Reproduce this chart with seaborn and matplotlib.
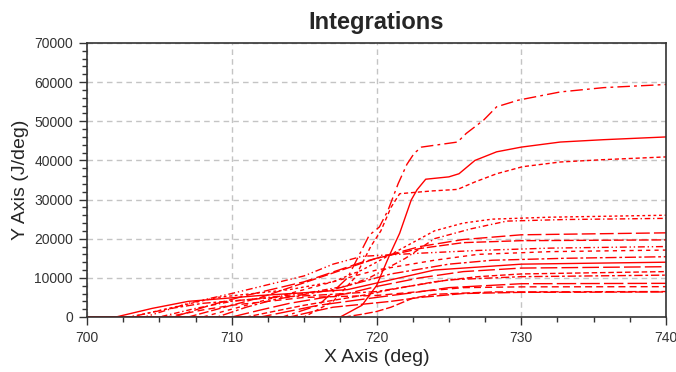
import pandas as pd
import matplotlib
matplotlib.use('Agg')
import matplotlib.pyplot as plt
import seaborn as sns
from matplotlib.ticker import MultipleLocator

# Integrated curves (x in deg, y in J/deg)
c01_x = [700, 713.5, 716, 718, 719.5, 720.2, 720.8, 721.5, 722.1, 722.6, 723.1, 725.6, 726.2, 727.4, 728.3, 729.8, 732.7, 735.7, 740]
c01_y = [0, 0, 3000, 10000, 20900, 23000, 27300, 34100, 39000, 41800, 43400, 44700, 46900, 50300, 53700, 55400, 57500, 58600, 59400]
c02_x = [700, 717.5, 719, 720, 720.9, 721.6, 722.4, 722.8, 723.4, 725, 725.7, 726.8, 728.3, 730, 732.7, 735.7, 740]
c02_y = [0, 0, 3000, 8000, 15800, 21400, 29900, 32500, 35200, 35800, 36600, 40000, 42200, 43400, 44700, 45300, 46000]
c03_x = [700, 715, 717, 718.5, 719.6, 720.3, 721.0, 721.6, 723.8, 725.6, 726.8, 728.3, 730.1, 732.7, 735.7, 740]
c03_y = [0, 0, 4000, 10000, 18000, 22000, 28000, 31500, 32200, 32600, 34500, 36600, 38400, 39600, 40200, 40900]
c04_x = [700, 703, 706, 709, 714, 717, 719, 721, 724, 726, 728, 732, 740]
c04_y = [0, 0, 2500, 5000, 7000, 9000, 12000, 16000, 22000, 24000, 25000, 25500, 26000]
c05_x = [700, 705, 707.5, 710, 715, 718, 719.5, 722, 724, 726.5, 729, 733, 740]
c05_y = [0, 0, 2200, 4000, 6000, 8000, 10000, 15000, 20000, 22500, 24500, 24900, 25200]
c06_x = [700, 706, 708.5, 711, 715, 717, 719, 721, 723, 726, 730, 740]
c06_y = [0, 0, 3000, 5500, 9000, 11500, 14000, 16000, 18000, 19800, 21000, 21500]
c07_x = [700, 707, 709.5, 712, 716, 718, 720, 723, 726, 730, 740]
c07_y = [0, 0, 2500, 5000, 10000, 12500, 15000, 17500, 19000, 19500, 19700]
c08_x = [700, 704, 707, 710, 715, 717, 719, 723, 727, 732, 740]
c08_y = [0, 0, 3500, 6000, 10500, 13500, 15500, 16300, 17000, 17600, 18000]
c09_x = [700, 708, 710, 712, 716, 718, 720, 724, 727, 732, 740]
c09_y = [0, 0, 2000, 4000, 8000, 10000, 12000, 14500, 16000, 16700, 17100]
c10_x = [700, 709, 711, 713, 717, 719, 721, 725, 728, 733, 740]
c10_y = [0, 0, 2500, 4500, 7000, 9000, 11000, 13500, 14500, 15000, 15400]
c11_x = [700, 702, 704.5, 707, 712, 715, 718, 721, 724, 730, 740]
c11_y = [0, 0, 2200, 4000, 5500, 6200, 7000, 9500, 12000, 13500, 14000]
c12_x = [700, 710, 712, 714, 718, 720, 723, 726, 730, 740]
c12_y = [0, 0, 1800, 3500, 6000, 7800, 10000, 11600, 12500, 12850]
c13_x = [700, 711, 713, 715, 719, 721, 724, 727, 730, 740]
c13_y = [0, 0, 1500, 3000, 5500, 7000, 9000, 10300, 11000, 11600]
c14_x = [700, 703, 705.5, 708, 713, 717, 720, 722.5, 725, 730, 740]
c14_y = [0, 0, 2000, 3500, 5000, 5800, 6500, 8000, 9500, 10300, 10700]
c15_x = [700, 712, 714, 716, 720, 722.5, 725, 730, 740]
c15_y = [0, 0, 1500, 3000, 5000, 6200, 7500, 8500, 8600]
c16_x = [700, 705.5, 708, 710, 715, 720, 723, 726, 730, 740]
c16_y = [0, 0, 1800, 3000, 5000, 5500, 6500, 7500, 7700, 7750]
c17_x = [700, 714, 715.5, 717, 721, 723, 726, 730, 740]
c17_y = [0, 0, 1300, 2500, 4000, 5000, 6000, 6300, 6400]
c18_x = [700, 717.8, 719, 720, 721, 722.5, 724, 728, 740]
c18_y = [0, 0, 700, 1400, 2500, 4800, 5800, 6400, 6500]

curves = {
    'c01': (c01_x, c01_y), 'c02': (c02_x, c02_y), 'c03': (c03_x, c03_y),
    'c04': (c04_x, c04_y), 'c05': (c05_x, c05_y), 'c06': (c06_x, c06_y),
    'c07': (c07_x, c07_y), 'c08': (c08_x, c08_y), 'c09': (c09_x, c09_y),
    'c10': (c10_x, c10_y), 'c11': (c11_x, c11_y), 'c12': (c12_x, c12_y),
    'c13': (c13_x, c13_y), 'c14': (c14_x, c14_y), 'c15': (c15_x, c15_y),
    'c16': (c16_x, c16_y), 'c17': (c17_x, c17_y), 'c18': (c18_x, c18_y),
}

# line patterns (all lines are red)
dash_list = [(9, 3, 2, 3), '', (3, 2), (2, 2), (4, 2, 1, 2), (10, 3),
             (7, 2), (5, 2, 1, 2, 1, 2), (3, 3), (8, 2, 2, 2), '', (12, 3),
             (4, 2), (6, 2, 2, 2), (14, 3), (5, 3), (9, 2), (6, 2)]
dash_map = dict(zip(curves.keys(), dash_list))

frames = []
for name, (xs, ys) in curves.items():
    frames.append(pd.DataFrame({'angle': xs, 'value': ys, 'curve': name}))
df = pd.concat(frames, ignore_index=True)

sns.set_style('ticks')
plt.rcParams['font.family'] = ['Liberation Sans', 'DejaVu Sans']

fig = plt.figure(figsize=(6.76, 3.72), dpi=100)
ax = fig.add_axes([87 / 676, 1 - 317 / 372, 579 / 676, 274 / 372])

sns.lineplot(data=df, x='angle', y='value', style='curve', dashes=dash_map,
             color='#ff0000', linewidth=1, estimator=None, sort=False,
             legend=False, ax=ax)

ax.set_xlim(700, 740)
ax.set_ylim(0, 70000)
ax.xaxis.set_major_locator(MultipleLocator(10))
ax.xaxis.set_minor_locator(MultipleLocator(2.5))
ax.yaxis.set_major_locator(MultipleLocator(10000))
ax.yaxis.set_minor_locator(MultipleLocator(2000))
ax.grid(True, which='major', color='#c4c4c4', linestyle=(0, (4, 3)), linewidth=1)
ax.set_axisbelow(True)

ax.tick_params(which='major', direction='out', length=6, width=1,
               colors='#333333', labelsize=10, pad=4)
ax.tick_params(which='minor', direction='out', length=3.5, width=1, colors='#333333')
for sp in ax.spines.values():
    sp.set_visible(True)
    sp.set_color('#333333')
    sp.set_linewidth(1.2)

ax.set_title('Integrations', fontsize=17, fontweight='bold', pad=10)
ax.set_xlabel('X Axis (deg)', fontsize=14)
ax.set_ylabel('Y Axis (J/deg)', fontsize=14)
ax.xaxis.set_label_coords(0.5, -0.115)
ax.yaxis.set_label_coords(-0.10, 0.50)

fig.savefig('out.png', dpi=100, facecolor='white')
